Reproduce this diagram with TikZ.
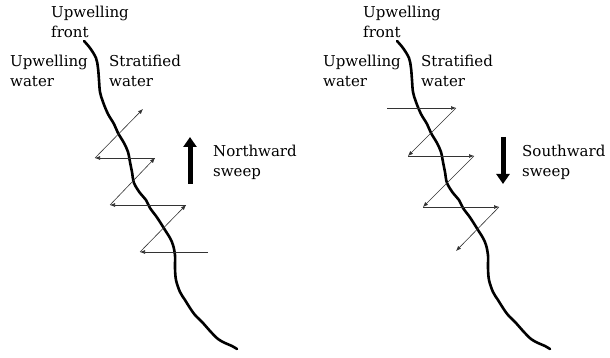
\documentclass[tikz,border=0pt]{standalone}
\usepackage{fontspec}
\setmainfont{DejaVu Serif}
\usetikzlibrary{arrows.meta}
\begin{document}
\begin{tikzpicture}[x=1pt,y=-1pt,
  lbl/.style={font=\fontsize{15}{20}\selectfont, align=left, inner sep=0pt, anchor=base west},
  track/.style={draw=black!80, line width=0.6pt, -{Latex[length=5pt,width=4pt]}},
  front/.style={line width=2.6pt, line cap=round, line join=round},
  sweeparrow/.style={line width=5pt, -{Triangle[length=10pt,width=13pt]}}]
\useasboundingbox (0,0) rectangle (610,358);
\def\frontpath{plot[smooth, tension=0.55] coordinates {(84,41) (90,48) (96,58) (98,68) (99,80) (100,92) (103,102) (108,114) (114,124) (118,133) (124,143) (128,152) (130,162) (132,172) (134,183) (140,193) (146,200) (150,208) (156,216) (160,222) (165,230) (170,238) (173,245) (175,255) (175,268) (176,280) (180,292) (185,300) (190,308) (195,315) (203,323) (210,331) (218,339) (225,343) (232,346) (237,349)}}
% left panel
\draw[front] \frontpath;
\node[lbl] (uf1) at (51,38) {Upwelling\\front};
\node[lbl] (uw1) at (10,87) {Upwelling\\water};
\node[lbl] (sw1) at (109,87) {Stratified\\water};
\node[lbl] (nw) at (213,177) {Northward\\sweep};
\coordinate (L1) at (208,252);
\coordinate (L2) at (140,252);
\coordinate (L3) at (186,205);
\coordinate (L4) at (110,205);
\coordinate (L5) at (155,158);
\coordinate (L6) at (95,158);
\coordinate (L7) at (143,109);
\draw[track] (L1) -- (L2);
\draw[track] (L2) -- (L3);
\draw[track] (L3) -- (L4);
\draw[track] (L4) -- (L5);
\draw[track] (L5) -- (L6);
\draw[track] (L6) -- (L7);
\coordinate (na) at (190,184);
\coordinate (nb) at (190,137);
\draw[sweeparrow] (na) -- (nb);
% right panel
\begin{scope}[xshift=313pt]
\draw[front] \frontpath;
\end{scope}
\node[lbl] (uf2) at (363,38) {Upwelling\\front};
\node[lbl] (uw2) at (323,87) {Upwelling\\water};
\node[lbl] (sw2) at (421,87) {Stratified\\water};
\node[lbl] (sws) at (522,177) {Southward\\sweep};
\coordinate (R1) at (387,108);
\coordinate (R2) at (456,108);
\coordinate (R3) at (408,156);
\coordinate (R4) at (474,156);
\coordinate (R5) at (423,207);
\coordinate (R6) at (499,207);
\coordinate (R7) at (456,251);
\draw[track] (R1) -- (R2);
\draw[track] (R2) -- (R3);
\draw[track] (R3) -- (R4);
\draw[track] (R4) -- (R5);
\draw[track] (R5) -- (R6);
\draw[track] (R6) -- (R7);
\coordinate (sa) at (503,137);
\coordinate (sb) at (503,184);
\draw[sweeparrow] (sa) -- (sb);
\end{tikzpicture}
\end{document}
